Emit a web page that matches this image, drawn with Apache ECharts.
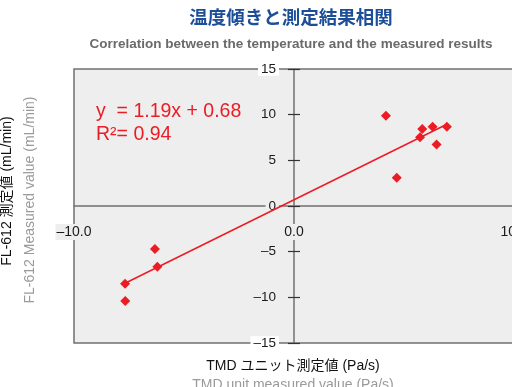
<!DOCTYPE html>
<html><head><meta charset="utf-8">
<script src="https://cdn.jsdelivr.net/npm/echarts@6/dist/echarts.min.js"></script>
<style>html,body{margin:0;padding:0;background:#fff}#c{width:512px;height:387px}</style>
</head><body><div id="c"></div>
<script>
const xRange = [-10, 10];
const yRange = [-15, 15];
const measured = [[4.18,9.89],[4.67,3.1],[5.73,7.52],[5.83,8.43],[6.30,8.69],[6.48,6.72],[6.95,8.69],[-6.32,-4.71],[-6.21,-6.65],[-7.68,-8.51],[-7.67,-10.4]];
const trendLine = [[-7.68,-8.46],[6.95,8.95]];
const equationText = 'y  = 1.19x + 0.68';
const r2Text = 'R²= 0.94';

const RED = '#ec1c24';
const AX = '#707070';
const font = '"Liberation Sans", Arial, "Noto Sans CJK JP", sans-serif';
const jp = '"Liberation Sans", "Noto Sans CJK JP", sans-serif';

const G = {left: 74, top: 69, width: 440, height: 274};
const xZeroOffset = -(G.height / 2);
const yZeroOffset = -(G.width / 2);
const neg = s => String(s).replace('-', '–');

const chart = echarts.init(document.getElementById('c'));
chart.setOption({
  animation: false,
  textStyle: {fontFamily: font},
  grid: {left: G.left, top: G.top, width: G.width, height: G.height, show: true, backgroundColor: '#eeeeee', borderColor: AX, borderWidth: 1.5, containLabel: false, outerBoundsMode: 'none'},
  xAxis: {
    type: 'value', min: xRange[0], max: xRange[1], interval: 10, position: 'bottom', offset: xZeroOffset,
    axisLine: {onZero: false, lineStyle: {color: AX, width: 1.5}},
    axisTick: {show: false},
    splitLine: {show: false},
    axisLabel: {fontSize: 14, color: '#1a1a1a', margin: 18, formatter: v => neg(v.toFixed(1)), backgroundColor: '#eeeeee', padding: [1, 1]}
  },
  yAxis: [{
    type: 'value', min: yRange[0], max: yRange[1], interval: 5, position: 'left', offset: yZeroOffset,
    axisLine: {onZero: false, lineStyle: {color: AX, width: 1.5}},
    axisTick: {show: true, length: 6, lineStyle: {color: '#333', width: 1.2}},
    splitLine: {show: false},
    axisLabel: {
      fontSize: 13.5, color: '#1a1a1a', margin: 15,
      formatter: v => (v === 15 || v === -15) ? '{w|' + neg(v) + '}' : '{g|' + neg(v) + '}',
      rich: {
        w: {fontSize: 13.5, color: '#1a1a1a', backgroundColor: '#fff', padding: [0, 3]},
        g: {fontSize: 13.5, color: '#1a1a1a', backgroundColor: '#eeeeee', padding: [0, 3]}
      }
    }
  }, {
    type: 'value', min: yRange[0], max: yRange[1], interval: 5, position: 'left', offset: yZeroOffset,
    axisLine: {show: false, onZero: false},
    axisTick: {show: true, inside: true, length: 6, lineStyle: {color: '#333', width: 1.2}},
    axisLabel: {show: false},
    splitLine: {show: false}
  }],
  series: [{
    type: 'line', data: trendLine, showSymbol: false, symbol: 'none',
    lineStyle: {color: RED, width: 1.5}, z: 3, silent: true
  }, {
    type: 'scatter', data: measured, symbol: 'diamond', symbolSize: 10,
    itemStyle: {color: RED, opacity: 1}, z: 4
  }],
  graphic: [
    {type: 'text', x: 291, y: 19, style: {text: '温度傾きと測定結果相関', fontSize: 18.5, fontWeight: 'bold', fontFamily: jp, fill: '#1d4f98', align: 'center', verticalAlign: 'middle'}},
    {type: 'text', x: 291, y: 44, style: {text: 'Correlation between the temperature and the measured results', fontSize: 13.5, fontWeight: 'bold', fontFamily: font, fill: '#6a6a6a', align: 'center', verticalAlign: 'middle'}},
    {type: 'text', x: 96, y: 112, style: {text: equationText, fontSize: 19.5, fontFamily: font, fill: RED, align: 'left', verticalAlign: 'middle'}},
    {type: 'text', x: 96, y: 135, style: {text: r2Text, fontSize: 19.5, fontFamily: font, fill: RED, align: 'left', verticalAlign: 'middle'}},
    {type: 'text', x: 7, y: 191, rotation: Math.PI / 2, style: {text: 'FL-612 測定値 (mL/min)', fontSize: 14, fontFamily: jp, fill: '#111', align: 'center', verticalAlign: 'middle'}},
    {type: 'text', x: 30, y: 200, rotation: Math.PI / 2, style: {text: 'FL-612 Measured value (mL/min)', fontSize: 14, fontFamily: font, fill: '#9a9a9a', align: 'center', verticalAlign: 'middle'}},
    {type: 'text', x: 293, y: 366, style: {text: 'TMD ユニット測定値 (Pa/s)', fontSize: 14, fontFamily: jp, fill: '#111', align: 'center', verticalAlign: 'middle'}},
    {type: 'text', x: 293, y: 385, style: {text: 'TMD unit measured value (Pa/s)', fontSize: 14, fontFamily: font, fill: '#9a9a9a', align: 'center', verticalAlign: 'middle'}}
  ]
});
</script></body></html>
